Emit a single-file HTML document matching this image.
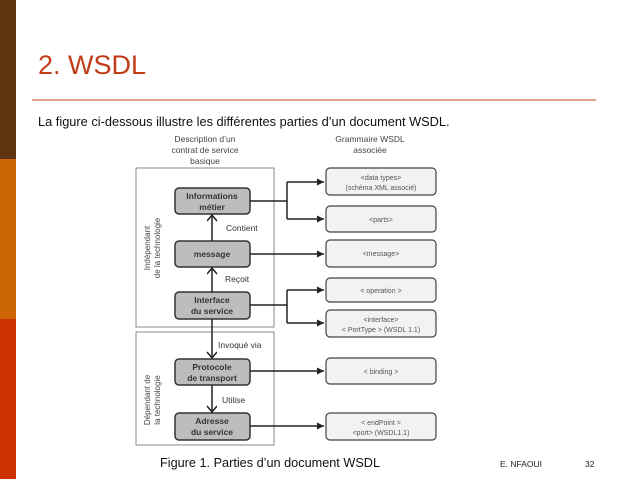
<!DOCTYPE html>
<html><head><meta charset="utf-8"><style>
html,body{margin:0;padding:0;background:#fff;}
body{width:638px;height:479px;overflow:hidden;position:relative;font-family:"Liberation Sans",sans-serif;}
</style></head><body>
<svg width="638" height="479" viewBox="0 0 638 479" xmlns="http://www.w3.org/2000/svg" style="position:absolute;left:0;top:0">
<defs><marker id="a" markerWidth="8" markerHeight="8" refX="7" refY="4" orient="auto" markerUnits="userSpaceOnUse"><path d="M0,0.5 L7,4 L0,7.5 z" fill="#222"/></marker>
<marker id="v" markerWidth="10" markerHeight="12" refX="7" refY="5" orient="auto" markerUnits="userSpaceOnUse"><path d="M1,0 L7,5 L1,10" fill="none" stroke="#222" stroke-width="1.5"/></marker></defs>
<rect x="0" y="0" width="16" height="159" fill="#5e3411"/>
<rect x="0" y="159" width="16" height="160" fill="#cc6505"/>
<rect x="0" y="319" width="16" height="160" fill="#cc3300"/>
<text x="38" y="74" font-family="Liberation Sans" font-size="27" fill="#c13d18">2. WSDL</text>
<line x1="32" y1="100" x2="596" y2="100" stroke="#d7846a" stroke-width="1.5"/>
<text x="38" y="126" font-size="12.8" fill="#111">La figure ci-dessous illustre les différentes parties d’un document WSDL.</text>
<g font-size="8.5" fill="#444" text-anchor="middle">
<text x="205" y="142">Description d’un</text><text x="205" y="153">contrat de service</text><text x="205" y="164">basique</text>
<text x="370" y="142">Grammaire WSDL</text><text x="370" y="153">associée</text>
</g>
<rect x="136" y="168" width="138" height="159" fill="none" stroke="#888" stroke-width="1"/>
<rect x="136" y="332" width="138" height="113" fill="none" stroke="#888" stroke-width="1"/>
<g font-size="8" fill="#444" text-anchor="middle">
<text transform="translate(150,248) rotate(-90)">Indépendant</text>
<text transform="translate(160,248) rotate(-90)">de la technologie</text>
<text transform="translate(150,400) rotate(-90)">Dépendant de</text>
<text transform="translate(160,400) rotate(-90)">la technologie</text>
</g>
<g fill="#bdbdbd" stroke="#333" stroke-width="1.5">
<rect x="175" y="188" width="75" height="26" rx="4"/>
<rect x="175" y="241" width="75" height="26" rx="4"/>
<rect x="175" y="292" width="75" height="27" rx="4"/>
<rect x="175" y="359" width="75" height="26" rx="4"/>
<rect x="175" y="413" width="75" height="27" rx="4"/>
</g>
<g font-size="8.5" fill="#333" text-anchor="middle" font-weight="bold">
<text x="212" y="199">Informations</text><text x="212" y="210">métier</text>
<text x="212" y="257">message</text>
<text x="212" y="303">Interface</text><text x="212" y="314">du service</text>
<text x="212" y="370">Protocole</text><text x="212" y="381">de transport</text>
<text x="212" y="424">Adresse</text><text x="212" y="435">du service</text>
</g>
<g fill="#f2f2f2" stroke="#444" stroke-width="1.2">
<rect x="326" y="168" width="110" height="27" rx="4"/>
<rect x="326" y="206" width="110" height="26" rx="4"/>
<rect x="326" y="240" width="110" height="27" rx="4"/>
<rect x="326" y="278" width="110" height="24" rx="4"/>
<rect x="326" y="310" width="110" height="27" rx="4"/>
<rect x="326" y="358" width="110" height="26" rx="4"/>
<rect x="326" y="413" width="110" height="27" rx="4"/>
</g>
<g font-size="7" fill="#555" text-anchor="middle">
<text x="381" y="180">&lt;data types&gt;</text><text x="381" y="190">(schéma XML associé)</text>
<text x="381" y="222">&lt;parts&gt;</text>
<text x="381" y="256">&lt;message&gt;</text>
<text x="381" y="293">&lt; operation &gt;</text>
<text x="381" y="322">&lt;interface&gt;</text><text x="381" y="332">&lt; PortType &gt; (WSDL 1.1)</text>
<text x="381" y="374">&lt; binding &gt;</text>
<text x="381" y="425">&lt; endPoint &gt;</text><text x="381" y="435">&lt;port&gt; (WSDL1.1)</text>
</g>
<g stroke="#222" stroke-width="1.5" fill="none">
<path d="M250,201 H287"/><path d="M287,182 V219"/>
<path d="M287,182 H324" marker-end="url(#a)"/><path d="M287,219 H324" marker-end="url(#a)"/>
<path d="M250,254 H324" marker-end="url(#a)"/>
<path d="M250,305 H287"/><path d="M287,290 V323"/>
<path d="M287,290 H324" marker-end="url(#a)"/><path d="M287,323 H324" marker-end="url(#a)"/>
<path d="M250,371 H324" marker-end="url(#a)"/>
<path d="M250,426 H324" marker-end="url(#a)"/>
<path d="M212,241 V215" marker-end="url(#v)"/>
<path d="M212,292 V268" marker-end="url(#v)"/>
<path d="M212,319 V358" marker-end="url(#v)"/>
<path d="M212,385 V412" marker-end="url(#v)"/>
</g>
<g font-size="8.5" fill="#333">
<text x="226" y="231">Contient</text>
<text x="225" y="282">Reçoit</text>
<text x="218" y="348">Invoqué via</text>
<text x="222" y="403">Utilise</text>
</g>
<text x="160" y="467" font-size="12.7" fill="#111">Figure 1. Parties d’un document WSDL</text>
<text x="500" y="467" font-size="8.5" fill="#222">E. NFAOUI</text>
<text x="585" y="467" font-size="8.5" fill="#222">32</text>
</svg>
</body></html>
